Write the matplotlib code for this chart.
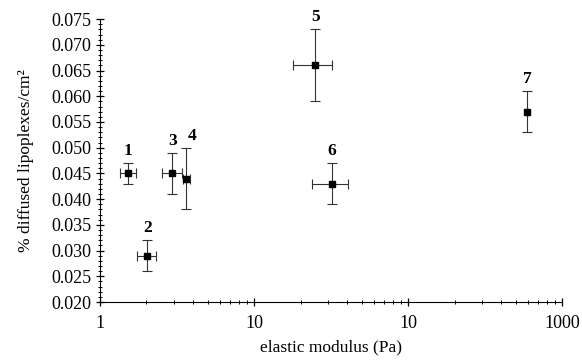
import matplotlib
matplotlib.use('Agg')
import matplotlib.pyplot as plt
from matplotlib.ticker import FixedLocator, MultipleLocator, LogLocator, NullFormatter

plt.rcParams['font.family'] = ['Liberation Serif', 'DejaVu Serif']

# data
labels = ['1', '2', '3', '4', '5', '6', '7']
modulus = [1.52, 2.02, 2.94, 3.62, 24.9, 32.0, 590.0]
mod_lo = [0.17, 0.28, 0.41, 0.18, 7.0, 8.3, 0.0]
mod_hi = [0.19, 0.29, 0.47, 0.20, 7.3, 8.7, 0.0]
diffused = [0.045, 0.029, 0.045, 0.044, 0.066, 0.043, 0.057]
diff_err = [0.002, 0.003, 0.004, 0.006, 0.007, 0.004, 0.004]
xtick_vals = [1, 10, 100, 1000]
xtick_text = ['1', '10', '10', '1000']

fig = plt.figure(figsize=(5.82, 3.60), dpi=100)
ax = fig.add_axes([0.172, 0.161, 0.794, 0.786])

ax.errorbar(modulus, diffused, xerr=[mod_lo, mod_hi], yerr=diff_err,
            fmt='s', color='black', markersize=5, elinewidth=0.8,
            capsize=3.5, capthick=0.8, ecolor='#333333')

for lab, x, y, e in zip(labels, modulus, diffused, diff_err):
    dx = 4 if lab == '4' else 0
    ax.annotate(lab, (x, y + e), xytext=(dx, 3), textcoords='offset points',
                ha='center', va='bottom', fontsize=12.5, fontweight='bold')

ax.set_xscale('log')
ax.set_xlim(1, 1000)
ax.set_ylim(0.020, 0.075)
ax.xaxis.set_major_locator(FixedLocator(xtick_vals))
ax.set_xticklabels(xtick_text)
ax.xaxis.set_minor_locator(LogLocator(base=10, subs=range(2, 10)))
ax.xaxis.set_minor_formatter(NullFormatter())
ax.yaxis.set_major_locator(MultipleLocator(0.005))
ax.yaxis.set_minor_locator(MultipleLocator(0.001))
ax.yaxis.set_major_formatter(matplotlib.ticker.FormatStrFormatter('%.3f'))

for s in ['top', 'right']:
    ax.spines[s].set_visible(False)
ax.tick_params(which='major', direction='inout', length=6, width=0.9, labelsize=13)
ax.tick_params(axis='x', which='major', pad=6)
ax.tick_params(which='minor', direction='inout', length=3, width=0.7)

ax.set_xlabel('elastic modulus (Pa)', fontsize=12.5, labelpad=6)
ax.set_ylabel('% diffused lipoplexes/cm²', fontsize=12.5, labelpad=12)

fig.savefig('out.png', dpi=100)
